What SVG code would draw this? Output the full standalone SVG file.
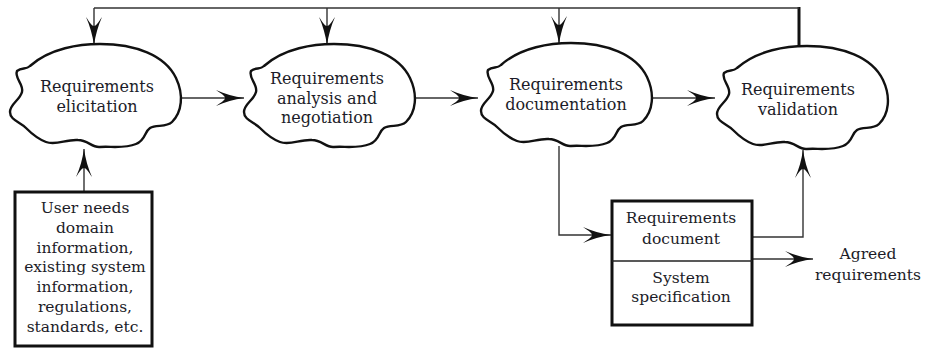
<svg xmlns="http://www.w3.org/2000/svg" width="925" height="348" viewBox="0 0 925 348">
<style>
.cloud{fill:#fff;stroke:#111;stroke-width:2.4;stroke-linejoin:round}
.box{fill:#fff;stroke:#111;stroke-width:3}
.ln{fill:none;stroke:#333;stroke-width:1.4}
.thick{fill:none;stroke:#111;stroke-width:3}
.t{font-family:"DejaVu Serif","Liberation Serif",serif;font-size:16px;fill:#1c1c28;text-anchor:middle}
.tb{font-family:"DejaVu Serif","Liberation Serif",serif;font-size:15.5px;fill:#1c1c28;text-anchor:middle}
</style>
<defs>
<marker id="ah" markerUnits="userSpaceOnUse" viewBox="0 0 28 16" markerWidth="28" markerHeight="16" refX="28" refY="8" orient="auto">
<path d="M0,0 C9,4 18,6.5 28,8 C18,9.5 9,12 0,16 C6,12 9,10 9,8 C9,6 6,4 0,0 Z" fill="#111"/>
</marker>
<path id="cl" d="M17 71 C22 67 26 70 30 66 C50 48 80 44 100 44 C135 44 165 55 176 78 C184 95 182 112 172 122 C166 128 156 124 150 128 C144 132 146 140 136 144 C124 149 110 146 100 147 C92 148 88 140 78 140 C66 139 56 146 46 142 C38 139 32 134 26 128 C20 122 10 120 10 112 C10 104 20 100 22 92 C24 84 14 78 17 71 Z"/>
</defs>
<g id="connectors">
<path class="thick" d="M799 50 V7"/>
<path class="ln" d="M799 8 H94"/>
<path class="ln" d="M94 8 V45" marker-end="url(#ah)"/>
<path class="ln" d="M327 8 V45" marker-end="url(#ah)"/>
<path class="ln" d="M559 8 V44" marker-end="url(#ah)"/>
<path class="ln" d="M181 98 H244" marker-end="url(#ah)"/>
<path class="ln" d="M415 98 H478" marker-end="url(#ah)"/>
<path class="ln" d="M651 98 H715" marker-end="url(#ah)"/>
<path class="ln" d="M84 192 V149" marker-end="url(#ah)"/>
<path class="ln" d="M559 146 V235 H611" marker-end="url(#ah)"/>
<path class="ln" d="M752 237 H803 V150" marker-end="url(#ah)"/>
<path class="ln" d="M752 259 H813" marker-end="url(#ah)"/>
</g>
<g id="elicitation">
<use href="#cl" class="cloud"/>
<text class="t" x="97" y="92">Requirements</text>
<text class="t" x="97" y="112">elicitation</text>
</g>
<g id="analysis">
<use href="#cl" class="cloud" transform="translate(234,0)"/>
<text class="t" x="327" y="84">Requirements</text>
<text class="t" x="327" y="104">analysis and</text>
<text class="t" x="327" y="123">negotiation</text>
</g>
<g id="documentation">
<use href="#cl" class="cloud" transform="translate(471,-1)"/>
<text class="t" x="566" y="90">Requirements</text>
<text class="t" x="566" y="110">documentation</text>
</g>
<g id="validation">
<use href="#cl" class="cloud" transform="translate(707,2)"/>
<text class="t" x="798" y="95">Requirements</text>
<text class="t" x="798" y="115">validation</text>
</g>
<g id="userneeds">
<rect class="box" x="15" y="192" width="137" height="154"/>
<text class="tb" x="85" y="213">User needs</text>
<text class="tb" x="85" y="233">domain</text>
<text class="tb" x="85" y="253">information,</text>
<text class="tb" x="85" y="272">existing system</text>
<text class="tb" x="85" y="292">information,</text>
<text class="tb" x="85" y="312">regulations,</text>
<text class="tb" x="85" y="332">standards, etc.</text>
</g>
<g id="reqdoc">
<rect class="box" x="612" y="201" width="140" height="124"/>
<line x1="612" y1="261" x2="752" y2="261" stroke="#222" stroke-width="1.4"/>
<text class="tb" x="681" y="223">Requirements</text>
<text class="tb" x="681" y="244">document</text>
<text class="tb" x="681" y="283">System</text>
<text class="tb" x="681" y="302">specification</text>
</g>
<g id="agreed">
<text class="tb" x="868" y="259">Agreed</text>
<text class="tb" x="868" y="280">requirements</text>
</g>
</svg>
